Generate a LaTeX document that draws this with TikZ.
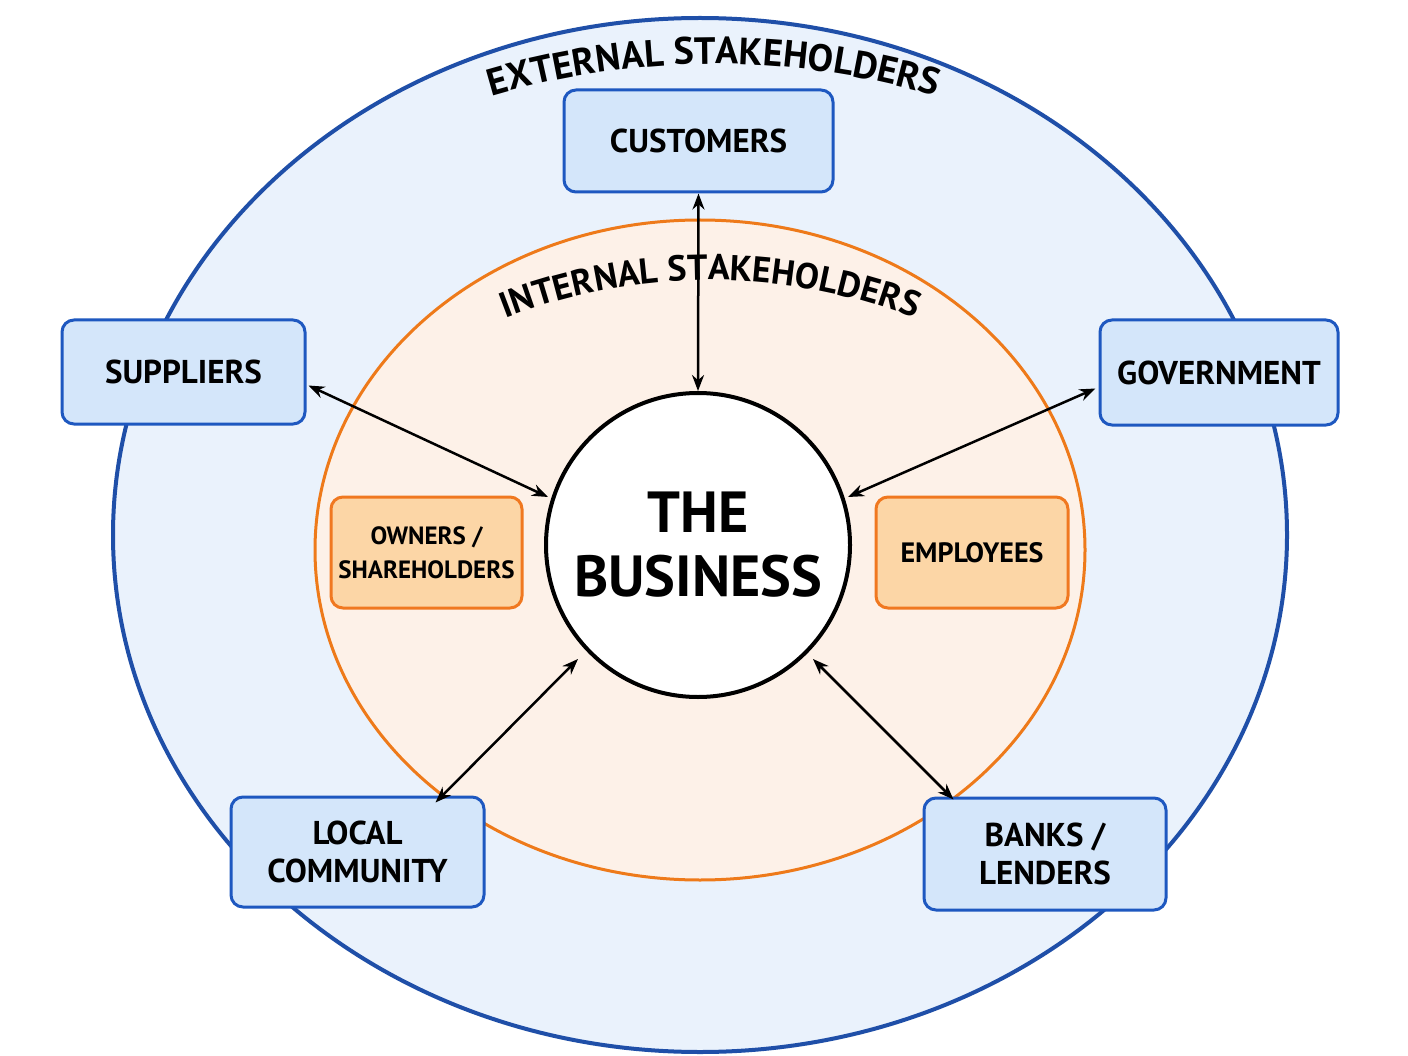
\documentclass[tikz,border=0pt]{standalone}
\usepackage{fontspec}
\setmainfont{PT Sans}
\usetikzlibrary{decorations.text,arrows.meta}
\definecolor{outerfill}{HTML}{EAF2FC}
\definecolor{outerline}{HTML}{1F4FA8}
\definecolor{innerfill}{HTML}{FDF1E8}
\definecolor{innerline}{HTML}{EE7A1A}
\definecolor{boxfill}{HTML}{D4E6FA}
\definecolor{boxline}{HTML}{1E58C0}
\definecolor{obfill}{HTML}{FCD6A6}
\definecolor{obline}{HTML}{F07820}
\begin{document}
\begin{tikzpicture}[x=1pt,y=1pt,
  extbox/.style={draw=boxline,line width=3pt,fill=boxfill,rounded corners=12pt,align=center,font=\fontsize{33}{38}\selectfont\bfseries,inner sep=0pt},
  intbox/.style={draw=obline,line width=3pt,fill=obfill,rounded corners=12pt,align=center,font=\fontsize{25}{34}\selectfont\bfseries,inner sep=0pt},
  link/.style={line width=2.5pt,{Stealth[length=16pt,width=12pt]}-{Stealth[length=16pt,width=12pt]}}]
\useasboundingbox (0,0) rectangle (1408,-1056);
\fill[white] (0,0) rectangle (1408,-1056);
\draw[fill=outerfill,draw=outerline,line width=4pt] (700,-535) ellipse[x radius=587,y radius=517];
\draw[fill=innerfill,draw=innerline,line width=3pt] (700,-550) ellipse[x radius=385,y radius=330];
\path[decorate,decoration={text along path,text align=center,text={|\fontsize{38}{40}\selectfont\bfseries|EXTERNAL STAKEHOLDERS}}]
  (714,-842) ++(107:778) arc[start angle=107,end angle=73,radius=778];
\node[circle,draw=black,line width=4pt,fill=white,minimum size=304pt,inner sep=0pt,align=center,font=\fontsize{58}{64}\selectfont\bfseries] (biz) at (698,-545) {THE\\BUSINESS};
\node[extbox,minimum width=269pt,minimum height=102pt] (cust) at (698.5,-141) {CUSTOMERS};
\node[extbox,minimum width=243pt,minimum height=104pt] (supp) at (183.5,-372) {SUPPLIERS};
\node[extbox,minimum width=238pt,minimum height=105pt] (gov) at (1219,-372.5) {GOVERNMENT};
\node[extbox,minimum width=253pt,minimum height=110pt] (loc) at (357.5,-852) {LOCAL\\COMMUNITY};
\node[extbox,minimum width=242pt,minimum height=112pt] (bank) at (1045,-854) {BANKS /\\LENDERS};
\node[intbox,minimum width=191pt,minimum height=111pt] (own) at (426.5,-552.5) {OWNERS /\\SHAREHOLDERS};
\node[intbox,minimum width=192pt,minimum height=111pt,font=\fontsize{28}{32}\selectfont\bfseries] (emp) at (972,-552.5) {EMPLOYEES};
\draw[link] (cust.south) -- (biz.north);
\draw[link] (supp.south east) ++(2,40) -- (548,-497);
\draw[link] (gov.south west) ++(-3,38) -- (848,-497);
\draw[link] (loc.north west) ++(206,-7) -- (578,-659);
\draw[link] (bank.north west) ++(31,-3) -- (813,-659);
\path[decorate,decoration={text along path,text align=center,text={|\fontsize{36}{38}\selectfont\bfseries|INTERNAL STAKEHOLDERS}}]
  (710,-845) ++(115:565) arc[start angle=115,end angle=65,radius=565];
\end{tikzpicture}
\end{document}
